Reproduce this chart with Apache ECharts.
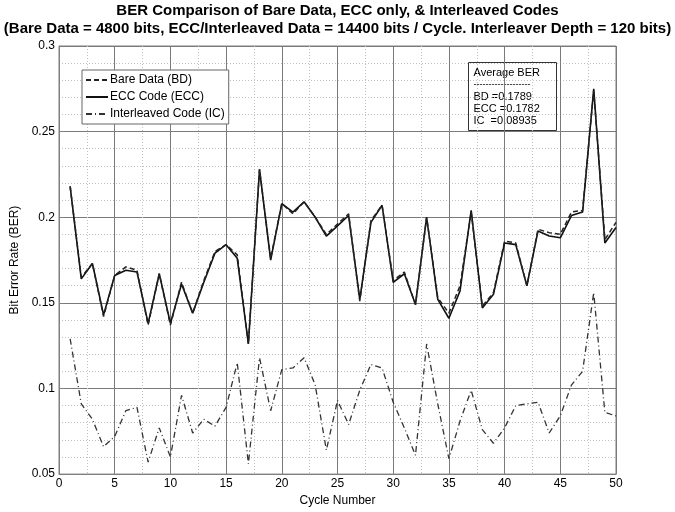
<!DOCTYPE html>
<html>
<head>
<meta charset="utf-8">
<script src="https://cdn.jsdelivr.net/npm/echarts@6/dist/echarts.min.js"></script>
<style>html,body{margin:0;padding:0;background:#fff}#c{width:675px;height:512px}</style>
</head>
<body>
<div id="c"></div>
<script>
var cycles = [];
for (var k = 1; k <= 50; k++) cycles.push(k);
var bareData = [0.218,0.165,0.173,0.142,0.166,0.171,0.169,0.137,0.167,0.137,0.162,0.144,0.163,0.180,0.184,0.178,0.126,0.228,0.176,0.208,0.202,0.209,0.200,0.190,0.196,0.202,0.151,0.198,0.207,0.163,0.168,0.149,0.200,0.153,0.144,0.160,0.203,0.148,0.156,0.186,0.185,0.160,0.193,0.191,0.190,0.203,0.204,0.274,0.187,0.197];
var eccCode = [0.218,0.164,0.173,0.143,0.166,0.169,0.168,0.138,0.167,0.138,0.161,0.144,0.162,0.179,0.184,0.176,0.126,0.228,0.175,0.208,0.203,0.209,0.200,0.189,0.195,0.201,0.152,0.197,0.207,0.162,0.167,0.149,0.200,0.152,0.141,0.157,0.204,0.147,0.155,0.185,0.184,0.160,0.192,0.189,0.188,0.201,0.203,0.275,0.185,0.194];
var interleaved = [0.129,0.091,0.082,0.066,0.072,0.087,0.089,0.057,0.077,0.060,0.096,0.074,0.082,0.078,0.089,0.115,0.056,0.118,0.087,0.111,0.112,0.118,0.102,0.064,0.093,0.079,0.099,0.114,0.112,0.092,0.077,0.061,0.126,0.091,0.059,0.081,0.099,0.076,0.068,0.077,0.090,0.091,0.092,0.074,0.084,0.102,0.110,0.156,0.086,0.084];
var seriesNames = ['Bare Data (BD)', 'ECC Code (ECC)', 'Interleaved Code (IC)'];
var titleLines = ['BER Comparison of Bare Data, ECC only, & Interleaved Codes',
  '(Bare Data = 4800 bits, ECC/Interleaved Data = 14400 bits / Cycle. Interleaver Depth = 120 bits)'];
var avgLines = ['Average BER', '-------------------', 'BD =0.1789', 'ECC =0.1782', 'IC  =0.08935'];

function pairs(arr){ return arr.map(function(v,i){ return [cycles[i], v]; }); }

var font = 'Liberation Sans, Arial, sans-serif';
var chart = echarts.init(document.getElementById('c'), null, {renderer:'canvas'});
chart.setOption({
  animation: false,
  backgroundColor: '#fff',
  title: [
    {text: titleLines[0], left: 'center', top: 3, padding: 0,
     textStyle: {fontFamily: font, fontSize: 15, fontWeight: 'bold', color: '#000'}},
    {text: titleLines[1], left: 'center', top: 21, padding: 0,
     textStyle: {fontFamily: font, fontSize: 15, fontWeight: 'bold', color: '#000'}}
  ],
  grid: {left: 59, right: 59, top: 46, bottom: 32, show: true, borderColor: '#7f7f7f', borderWidth: 1},
  legend: {
    orient: 'vertical', left: 82, top: 70,
    data: seriesNames,
    backgroundColor: '#fff', borderColor: '#666', borderWidth: 1,
    padding: [4, 4, 4, 3], itemGap: 5, itemWidth: 22, itemHeight: 10,
    itemStyle: {opacity: 0, borderWidth: 0},
    textStyle: {fontFamily: font, fontSize: 12, color: '#000', padding: [0, 0, 0, -3]}
  },
  xAxis: {
    type: 'value', min: 0, max: 50, interval: 5,
    name: 'Cycle Number', nameLocation: 'middle', nameGap: 17,
    nameTextStyle: {fontFamily: font, fontSize: 12, color: '#000'},
    axisLine: {show: true, lineStyle: {color: '#7f7f7f'}},
    axisTick: {show: true, inside: true, length: 4, lineStyle: {color: '#7f7f7f'}},
    axisLabel: {fontFamily: font, fontSize: 12, color: '#000', margin: 4},
    splitLine: {show: true, lineStyle: {color: '#7a7a7a', width: 1}},
    minorTick: {show: true, splitNumber: 2, length: 0},
    minorSplitLine: {show: true, lineStyle: {color: '#c0c0c0', type: [1, 2], width: 1}}
  },
  yAxis: {
    type: 'value', min: 0.05, max: 0.3, interval: 0.05,
    name: 'Bit Error Rate (BER)', nameLocation: 'middle', nameGap: 36, nameRotate: 90,
    nameTextStyle: {fontFamily: font, fontSize: 12, color: '#000'},
    axisLine: {show: true, lineStyle: {color: '#7f7f7f'}},
    axisTick: {show: true, inside: true, length: 4, lineStyle: {color: '#7f7f7f'}},
    axisLabel: {fontFamily: font, fontSize: 12, color: '#000', margin: 4,
      formatter: function(v){ return String(parseFloat(v.toFixed(2))); }},
    splitLine: {show: true, lineStyle: {color: '#7a7a7a', width: 1}},
    minorTick: {show: true, splitNumber: 5, length: 0},
    minorSplitLine: {show: true, lineStyle: {color: '#c0c0c0', type: [1, 2], width: 1}}
  },
  series: [
    {name: seriesNames[0], type: 'line', data: pairs(bareData), symbol: 'none', z: 3,
     lineStyle: {color: '#222', width: 1.5, type: [5, 3]}, itemStyle: {color: '#222'}},
    {name: seriesNames[1], type: 'line', data: pairs(eccCode), symbol: 'none', z: 2,
     lineStyle: {color: '#111', width: 1.6, type: 'solid'}, itemStyle: {color: '#111'}},
    {name: seriesNames[2], type: 'line', data: pairs(interleaved), symbol: 'none', z: 2,
     lineStyle: {color: '#333', width: 1.3, type: [6, 3, 1, 3]}, itemStyle: {color: '#333'}}
  ],
  graphic: [{
    type: 'group', left: 468, top: 62,
    children: [
      {type: 'rect', shape: {x: 0, y: 0, width: 88, height: 68}, style: {fill: '#fff', stroke: '#333', lineWidth: 1}},
      {type: 'text', x: 5, y: 5, style: {text: avgLines[0], font: '11px ' + font, fill: '#000'}},
      {type: 'text', x: 5, y: 18, style: {text: avgLines[1], font: '9px ' + font, fill: '#000'}},
      {type: 'text', x: 5, y: 29, style: {text: avgLines[2], font: '11px ' + font, fill: '#000'}},
      {type: 'text', x: 5, y: 41, style: {text: avgLines[3], font: '11px ' + font, fill: '#000'}},
      {type: 'text', x: 5, y: 53, style: {text: avgLines[4], font: '11px ' + font, fill: '#000'}}
    ]
  }]
});
</script>
</body>
</html>
